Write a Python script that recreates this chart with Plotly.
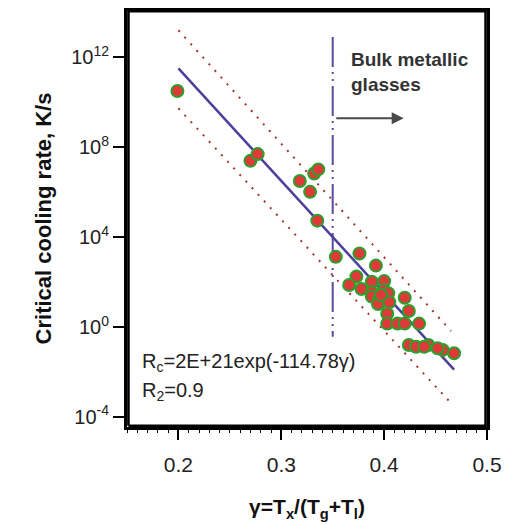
import plotly.graph_objects as go

# Data points (gamma, log10 critical cooling rate)
gamma = [0.199, 0.270, 0.277, 0.318, 0.328, 0.332, 0.336, 0.335, 0.353, 0.376,
         0.392, 0.373, 0.366, 0.378, 0.388, 0.400, 0.388, 0.400, 0.388, 0.395,
         0.404, 0.394, 0.405, 0.403, 0.403, 0.413, 0.420, 0.434, 0.420, 0.424,
         0.424, 0.431, 0.443, 0.457, 0.468, 0.439, 0.452, 0.397]
log_rc = [10.50, 7.39, 7.69, 6.49, 6.01, 6.83, 7.01, 4.73, 3.12, 3.27,
          2.73, 2.24, 1.87, 1.69, 2.01, 2.04, 1.54, 1.64, 1.35, 1.20,
          1.50, 1.02, 1.10, 0.59, 0.15, 0.15, 0.15, 0.15, 1.30, 0.71,
          -0.80, -0.88, -0.80, -1.02, -1.17, -0.88, -0.95, 1.42]
rc = [10 ** v for v in log_rc]

# Fit line and prediction bands (endpoints)
fit_x = [0.200, 0.468]
fit_log = [11.5, -1.9]
upper_x = [0.200, 0.465]
upper_log = [13.2, -0.18]
lower_x = [0.200, 0.463]
lower_log = [9.73, -3.29]
vline_x = [0.350, 0.350]
vline_log = [12.9, -0.44]

xtick_vals = [0.2, 0.3, 0.4, 0.5]
ytick_exps = [12, 8, 4, 0, -4]
x_range = [0.15, 0.5]
y_log_range = [-4.45, 14.1]
minor_step = 0.01

FONT = "Liberation Sans, Arial, sans-serif"

fig = go.Figure()
fig.add_trace(go.Scatter(x=upper_x, y=[10 ** v for v in upper_log], mode="lines",
                         line=dict(color="#a83232", width=2, dash="2px,7px"), hoverinfo="skip"))
fig.add_trace(go.Scatter(x=lower_x, y=[10 ** v for v in lower_log], mode="lines",
                         line=dict(color="#a83232", width=2, dash="2px,7px"), hoverinfo="skip"))
fig.add_trace(go.Scatter(x=vline_x, y=[10 ** v for v in vline_log], mode="lines",
                         line=dict(color="#5b4a9e", width=2, dash="30px,5px,2px,5px,2px,5px"),
                         hoverinfo="skip"))
fig.add_trace(go.Scatter(x=fit_x, y=[10 ** v for v in fit_log], mode="lines",
                         line=dict(color="#4b3f9c", width=2.5), hoverinfo="skip"))
fig.add_trace(go.Scatter(x=gamma, y=rc, mode="markers",
                         marker=dict(size=12, color="#e0393a",
                                     line=dict(color="#2ca02c", width=2))))
# plot frame, drawn just inside the axis range
ix = (x_range[1] - x_range[0]) * 0.004
iy = (y_log_range[1] - y_log_range[0]) * 0.003
fx0, fx1 = x_range[0] + ix, x_range[1] - ix
fy0, fy1 = 10 ** (y_log_range[0] + iy), 10 ** (y_log_range[1] - iy)
fig.add_trace(go.Scatter(x=[fx0, fx1, fx1, fx0, fx0], y=[fy0, fy0, fy1, fy1, fy0],
                         mode="lines", line=dict(color="black", width=2.6), hoverinfo="skip"))
# invisible trace to activate the minor-tick axis
fig.add_trace(go.Scatter(x=[0.2], y=[1], xaxis="x2", mode="markers",
                         marker=dict(opacity=0), hoverinfo="skip"))

fig.add_annotation(x=0.419, y=9.29, ax=0.352, ay=9.29, xref="x", yref="y",
                   axref="x", ayref="y", showarrow=True, arrowhead=2, arrowsize=1.2,
                   arrowwidth=2, arrowcolor="#4a4a4a", text="")
fig.add_annotation(x=0.366, y=11.35, xref="x", yref="y", xanchor="left", yanchor="middle",
                   showarrow=False, align="left",
                   text="<b>Bulk metallic<br>glasses</b>",
                   font=dict(family=FONT, size=19, color="#333333"))
fig.add_annotation(x=0.163, y=-1.56, xref="x", yref="y", xanchor="left", yanchor="middle",
                   showarrow=False, text="R<sub>c</sub>=2E+21exp(-114.78γ)",
                   font=dict(family=FONT, size=20, color="#222222"))
fig.add_annotation(x=0.163, y=-2.89, xref="x", yref="y", xanchor="left", yanchor="middle",
                   showarrow=False, text="R<sub>2</sub>=0.9",
                   font=dict(family=FONT, size=20, color="#222222"))

fig.update_layout(
    width=513, height=526,
    margin=dict(l=119, r=34, t=2, b=107, autoexpand=False),
    paper_bgcolor="white", plot_bgcolor="white",
    showlegend=False,
    font=dict(family=FONT, color="#222222"),
    xaxis=dict(
        range=x_range, showgrid=False, zeroline=False, automargin=False,
        showline=True, linecolor="black", linewidth=3, mirror=True,
        ticks="outside", ticklen=10, tickwidth=1.5, tickcolor="black",
        tickvals=xtick_vals, ticktext=[str(v) for v in xtick_vals],
        tickfont=dict(family=FONT, size=21, color="#222222"),
        ticklabelstandoff=7,
        title=dict(text="<b>γ=T<sub>x</sub>/(T<sub>g</sub>+T<sub>l</sub>)</b>",
                   font=dict(family=FONT, size=21, color="#111111"), standoff=25),
    ),
    xaxis2=dict(
        overlaying="x", matches="x", side="bottom", anchor="y",
        showgrid=False, zeroline=False, showline=False, automargin=False,
        ticks="outside", ticklen=5, tickwidth=1.2, tickcolor="black",
        tickmode="linear", dtick=minor_step, tick0=0, showticklabels=False,
    ),
    yaxis=dict(
        type="log", range=y_log_range, showgrid=False, zeroline=False, automargin=False,
        showline=True, linecolor="black", linewidth=3, mirror=True,
        ticks="outside", ticklen=11, tickwidth=1.5, tickcolor="black",
        tickvals=[10 ** e for e in ytick_exps],
        ticktext=["10<sup>%d</sup>" % e for e in ytick_exps],
        tickfont=dict(family=FONT, size=20, color="#222222"),
        title=dict(text="<b>Critical cooling rate, K/s</b>",
                   font=dict(family=FONT, size=22, color="#111111"), standoff=14),
    ),
)

fig.write_html("out.html")
